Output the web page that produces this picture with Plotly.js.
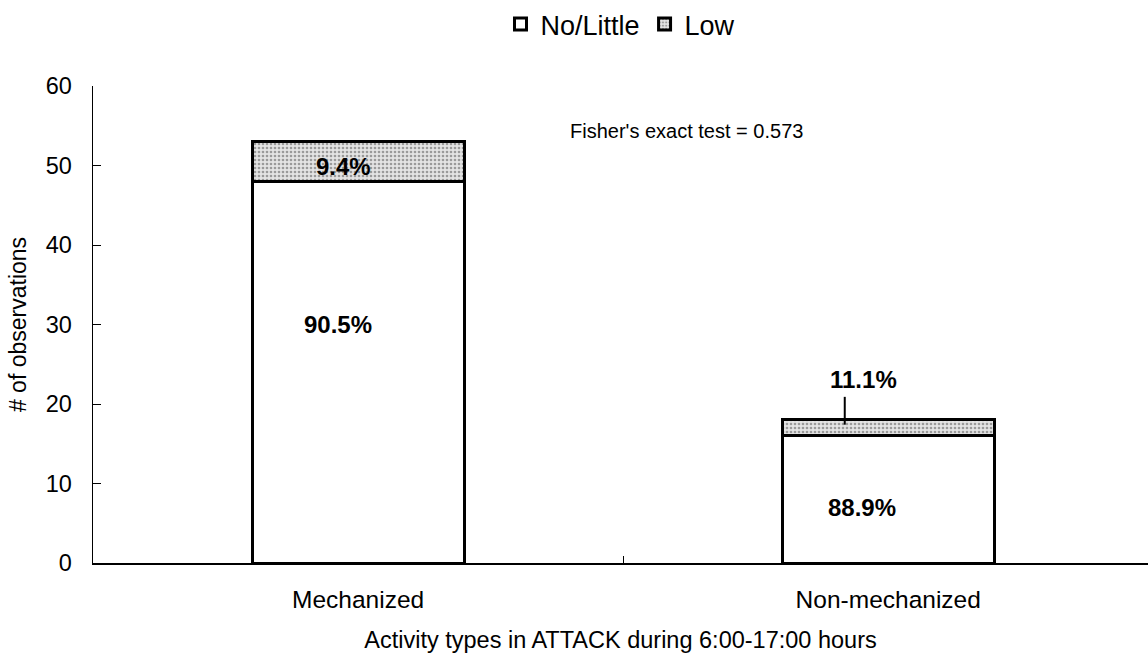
<!DOCTYPE html>
<html>
<head>
<meta charset="utf-8">
<script src="https://cdn.plot.ly/plotly-3.0.1.min.js"></script>
<style>html,body{margin:0;padding:0;background:#fff;}#chart{width:1148px;height:656px;}</style>
</head>
<body>
<div id="chart"></div>
<script>
// Data
const categories = ["Mechanized", "Non-mechanized"];
const noLittle = [48, 16];
const low = [5, 2];
const noLittlePct = ["90.5%", "88.9%"];
const lowPct = ["9.4%", "11.1%"];
const seriesNames = ["No/Little", "Low"];
const yTicks = [0, 10, 20, 30, 40, 50, 60];
const fisherText = "Fisher's exact test = 0.573";

const font = "Liberation Sans, Arial, sans-serif";

const traces = [
  {
    type: "bar", name: seriesNames[0], x: categories, y: noLittle,
    marker: {color: "#ffffff", line: {color: "#000000", width: 3}},
    hoverinfo: "skip"
  },
  {
    type: "bar", name: seriesNames[1], x: categories, y: low,
    marker: {
      color: "#e4e4e4",
      line: {color: "#000000", width: 3},
      pattern: {shape: ".", fgcolor: "#9a9a9a", bgcolor: "#e4e4e4", size: 4, solidity: 0.35}
    },
    hoverinfo: "skip"
  }
];

const totals = categories.map((c, i) => noLittle[i] + low[i]);

const annotations = [
  // inner labels
  {x: 0, y: noLittle[0] * 0.625, text: "<b>" + noLittlePct[0] + "</b>", xshift: -20},
  {x: 0, y: noLittle[0] + low[0] / 2, text: "<b>" + lowPct[0] + "</b>", xshift: -15, yshift: -5},
  {x: 1, y: noLittle[1] * 0.44, text: "<b>" + noLittlePct[1] + "</b>", xshift: -26},
  {x: 1, y: totals[1], text: "<b>" + lowPct[1] + "</b>", xshift: -25, yshift: 40},
  {x: 0.5, y: totals[0], text: fisherText, showarrow: false,
   font: {family: font, size: 20, color: "#000"}, xshift: 63, yshift: 11}
].map(a => Object.assign({showarrow: false, xref: "x", yref: "y",
  font: {family: font, size: 24, color: "#000"}}, a));

const layout = {
  width: 1148, height: 656,
  margin: {l: 93, r: 0, t: 86, b: 93},
  paper_bgcolor: "#ffffff", plot_bgcolor: "#ffffff",
  barmode: "stack",
  bargap: 0.6,
  showlegend: true,
  legend: {
    orientation: "h", x: 0.5, xanchor: "center", y: 1.0, yref: "container", yanchor: "top",
    font: {family: font, size: 27, color: "#000"},
    itemwidth: 30,
    traceorder: "normal", itemclick: false, itemdoubleclick: false
  },
  xaxis: {
    type: "category",
    range: [-0.5, 1.49],
    showline: true, linecolor: "#000", linewidth: 1.5,
    ticks: "inside", tickson: "boundaries", ticklen: 7, tickcolor: "#000", tickwidth: 1,
    tickfont: {family: font, size: 24.5, color: "#000"},
    ticklabelstandoff: 14,
    showgrid: false, zeroline: false,
    title: {text: "Activity types in ATTACK during 6:00-17:00 hours", font: {family: font, size: 23.5, color: "#000"}, standoff: 19}
  },
  yaxis: {
    range: [0, 60],
    tickvals: yTicks,
    showline: true, linecolor: "#000", linewidth: 1.5,
    ticks: "inside", ticklen: 8, tickcolor: "#000", tickwidth: 1,
    tickfont: {family: font, size: 23.5, color: "#000"},
    ticklabelstandoff: 15,
    showgrid: false, zeroline: false,
    title: {text: "# of observations", font: {family: font, size: 23, color: "#000"}, standoff: 12}
  },
  annotations: annotations,
  shapes: [
    {type: "line", xref: "x", yref: "y", x0: 1 - 0.082, x1: 1 - 0.082, y0: totals[1] - 0.6, y1: totals[1] + 2.9,
     line: {color: "#000", width: 2}}
  ],
  font: {family: font, color: "#000"}
};

Plotly.newPlot("chart", traces, layout, {staticPlot: true, displayModeBar: false});
</script>
</body>
</html>
